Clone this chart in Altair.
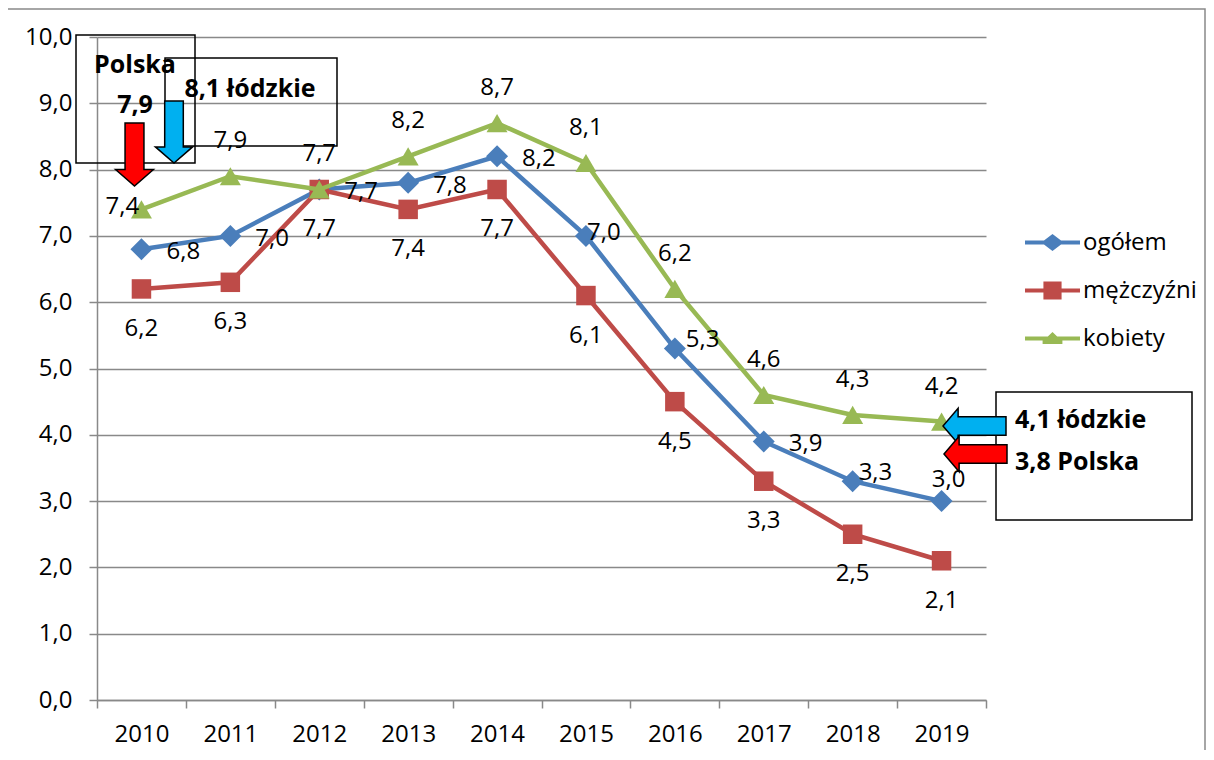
import altair as alt
import pandas as pd
import json

# ---------------- data ----------------
years = ["2010", "2011", "2012", "2013", "2014", "2015", "2016", "2017", "2018", "2019"]
series_names = ["ogółem", "mężczyźni", "kobiety"]
ogolem = [6.8, 7.0, 7.7, 7.8, 8.2, 7.0, 5.3, 3.9, 3.3, 3.0]
mezczyzni = [6.2, 6.3, 7.7, 7.4, 7.7, 6.1, 4.5, 3.3, 2.5, 2.1]
kobiety = [7.4, 7.9, 7.7, 8.2, 8.7, 8.1, 6.2, 4.6, 4.3, 4.2]
y_ticks = [0, 1, 2, 3, 4, 5, 6, 7, 8, 9, 10]

note_polska_title = "Polska"
note_polska_start = "7,9"
note_lodz_start = "8,1 łódzkie"
note_lodz_end = "4,1 łódzkie"
note_polska_end = "3,8 Polska"

# ---------------- styles ----------------
colors = ["#4A7EBB", "#BE4B48", "#98B954"]
marker_shapes = ["diamond", "square", "triangle-up"]
marker_sizes = [484, 380, 441]
legend_paths = [
    "M -1 -0.075 L -0.31 -0.075 L 0 -0.31 L 0.31 -0.075 L 1 -0.075 L 1 0.075 L 0.31 0.075 L 0 0.31 L -0.31 0.075 L -1 0.075 Z",
    "M -1 -0.075 L -0.33 -0.075 L -0.33 -0.33 L 0.33 -0.33 L 0.33 -0.075 L 1 -0.075 L 1 0.075 L 0.33 0.075 L 0.33 0.33 L -0.33 0.33 L -0.33 0.075 L -1 0.075 Z",
    "M -1 -0.075 L -0.17 -0.075 L 0 -0.24 L 0.17 -0.075 L 1 -0.075 L 1 0.075 L 0.36 0.075 L 0.36 0.2 L -0.36 0.2 L -0.36 0.075 L -1 0.075 Z",
]
ARROW_DOWN = "M -0.3 -1 L 0.3 -1 L 0.3 0.48 L 0.6 0.48 L 0 1 L -0.6 0.48 L -0.3 0.48 Z"
ARROW_LEFT = "M -1 0 L -0.52 -0.56 L -0.52 -0.29 L 1 -0.29 L 1 0.29 L -0.52 0.29 L -0.52 0.56 Z"

FONT = "Open Sans"
FS = 24
GRID = "#898989"

rows = []
for name, vals in zip(series_names, [ogolem, mezczyzni, kobiety]):
    for yr, v in zip(years, vals):
        rows.append({"year": yr, "series": name, "value": v,
                     "label": f"{v:.1f}".replace(".", ",")})
df = pd.DataFrame(rows)
one = pd.DataFrame({"k": [0]})

x_enc = alt.X("year:N", sort=years,
              scale=alt.Scale(type="band", paddingInner=0, paddingOuter=0),
              axis=alt.Axis(title=None, labelAngle=0, tickBand="extent", tickSize=8,
                            tickColor=GRID, tickWidth=1.5, domainColor=GRID, domainWidth=1.5,
                            labelFont=FONT, labelFontSize=FS, labelColor="black",
                            labelPadding=14, grid=False))
y_enc = alt.Y("value:Q", scale=alt.Scale(domain=[0, 10], nice=False, zero=True),
              axis=alt.Axis(title=None, values=y_ticks, tickSize=8, tickColor=GRID,
                            tickWidth=1.5, domainColor=GRID, domainWidth=1.5,
                            grid=True, gridColor=GRID, gridWidth=1.5,
                            labelExpr="replace(format(datum.value, '.1f'), '.', ',')",
                            labelFont=FONT, labelFontSize=FS, labelColor="black",
                            labelPadding=17))

def color_enc(legend=None):
    if legend is None:
        return alt.Color("series:N", scale=alt.Scale(domain=series_names, range=colors), legend=None)
    return alt.Color("series:N", scale=alt.Scale(domain=series_names, range=colors), legend=legend)

base = alt.Chart(df)
layers = []
for i, name in enumerate(series_names):
    sub = base.transform_filter(f"datum.series == {json.dumps(name)}")
    layers.append(sub.mark_line(strokeWidth=4.5).encode(x=x_enc, y=y_enc, color=color_enc()))
    layers.append(sub.mark_point(filled=True, opacity=1, size=marker_sizes[i]).encode(
        x=x_enc, y=y_enc, color=color_enc(),
        shape=alt.Shape("series:N", scale=alt.Scale(domain=series_names, range=marker_shapes), legend=None)))

# data labels: (series, years or None=all others, align, dx, dy)
label_rules = [
    ("ogółem", ["2015"], "left", 1, -3),
    ("ogółem", ["2016"], "left", 11, -9),
    ("ogółem", ["2018"], "left", 6, -8),
    ("ogółem", ["2019"], "center", 7, -21),
    ("ogółem", None, "left", 25, 3),
    ("mężczyźni", None, "center", 0, 40),
    ("kobiety", ["2010"], "center", -19, -2),
    ("kobiety", None, "center", 0, -35),
]
handled = {}
for s, yrs, align, dx, dy in label_rules:
    cond = f"datum.series == {json.dumps(s)}"
    if yrs is None:
        excl = handled.get(s, [])
        if excl:
            cond += f" && indexof({json.dumps(excl)}, datum.year) < 0"
    else:
        handled.setdefault(s, []).extend(yrs)
        cond += f" && indexof({json.dumps(yrs)}, datum.year) >= 0"
    layers.append(base.transform_filter(cond).mark_text(
        font=FONT, fontSize=FS, color="black", align=align, baseline="middle", dx=dx, dy=dy
    ).encode(x=x_enc, y=y_enc, text="label:N"))

# legend-only layer
leg = alt.Legend(title=None, orient="none", legendX=928, legendY=178, symbolSize=3025,
                 labelFont=FONT, labelFontSize=FS, labelColor="black", labelOffset=3,
                 symbolStrokeWidth=0, padding=0, rowPadding=8)
layers.append(base.transform_filter("false").mark_point(filled=True, opacity=1).encode(
    color=color_enc(leg),
    shape=alt.Shape("series:N", scale=alt.Scale(domain=series_names, range=legend_paths), legend=leg)))

# annotations
ann = alt.Chart(one)
def box(x, x2, y, y2, color="black", w=1.5):
    return ann.mark_rect(fillOpacity=0, stroke=color, strokeWidth=w).encode(
        x=alt.value(x), x2=alt.value(x2), y=alt.value(y), y2=alt.value(y2))
def txt(t, x, y, align="center"):
    return ann.mark_text(font=FONT, fontSize=25, fontWeight="bold", color="black",
                         align=align, baseline="middle").encode(
        x=alt.value(x), y=alt.value(y), text=alt.value(t))
def arrow(path, x, y, size, fill):
    return ann.mark_point(shape=path, size=size, filled=True, fill=fill, opacity=1,
                          stroke="black", strokeWidth=1.5).encode(x=alt.value(x), y=alt.value(y))

layers += [
    box(-90, 1108, -28, 720, GRID, 1.5),
    box(-21, 98, -2, 126),
    box(68, 240, 21, 109),
    box(899, 1095, 355, 483),
    txt(note_polska_title, 38, 28),
    txt(note_polska_start, 38, 68),
    txt(note_lodz_start, 153, 52),
    txt(note_lodz_end, 918, 383, "left"),
    txt(note_polska_end, 918, 425, "left"),
    arrow(ARROW_DOWN, 37.5, 117.5, 3969, "#FF0000"),
    arrow(ARROW_DOWN, 77, 95, 3844, "#00B0F0"),
    arrow(ARROW_LEFT, 877.5, 389, 3969, "#00B0F0"),
    arrow(ARROW_LEFT, 878.5, 417, 3969, "#FF0000"),
]

chart = alt.layer(*layers).resolve_scale(shape="independent", color="independent").properties(
    width=889, height=663,
    padding={"left": 89, "top": 29, "right": 220, "bottom": 50},
    autosize=alt.AutoSizeParams(type="none"),
    background="white",
).configure_view(strokeWidth=0)

chart.save("out.html", embed_options={"renderer": "svg", "actions": False})
